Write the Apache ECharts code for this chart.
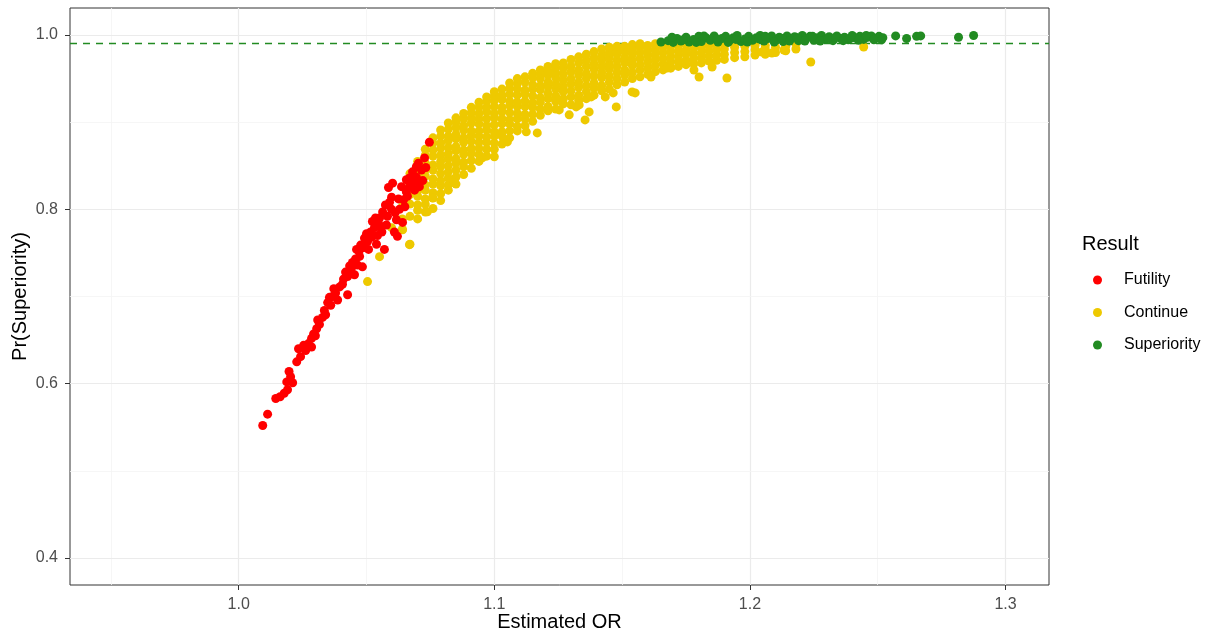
<!DOCTYPE html>
<html>
<head>
<meta charset="utf-8">
<script src="https://cdn.jsdelivr.net/npm/echarts@6.0.0/dist/echarts.min.js"></script>
<style>
html, body { margin: 0; padding: 0; background: #fff; }
#chart { width: 1216px; height: 637px; }
</style>
</head>
<body>
<div id="chart"></div>
<script>
// tick labels
var xTicks = [1.0, 1.1, 1.2, 1.3];
var yTicks = [0.4, 0.6, 0.8, 1.0];
var xMinor = [0.95, 1.05, 1.15, 1.25];
var yMinor = [0.5, 0.7, 0.9];
var threshold = 0.99;

// Futility points [OR, Pr]
var futility = [
  [1.0094,0.552],[1.0113,0.565],[1.0145,0.583],[1.0162,0.585],[1.0178,0.589],[1.0191,0.593],
  [1.0188,0.602],[1.0211,0.601],[1.0203,0.608],[1.0197,0.614],[1.0227,0.625],[1.0242,0.631],
  [1.0234,0.640],[1.0254,0.644],[1.0285,0.642],[1.0273,0.646],[1.0285,0.652],[1.0293,0.657],
  [1.0305,0.663],[1.0316,0.668],[1.0309,0.673],[1.0328,0.676],[1.0340,0.679],[1.0348,0.693],
  [1.0355,0.699],[1.0367,0.700],[1.0379,0.704],[1.0387,0.696],[1.0395,0.711],[1.0406,0.714],
  [1.0426,0.702],[1.0426,0.723],[1.0418,0.728],[1.0434,0.735],[1.0453,0.725],[1.0445,0.739],
  [1.0465,0.736],[1.0457,0.743],[1.0473,0.746],[1.0484,0.734],[1.0461,0.754],[1.0477,0.759],
  [1.0488,0.756],[1.0492,0.767],[1.0504,0.763],[1.0508,0.754],[1.0516,0.774],[1.0523,0.786],
  [1.0531,0.779],[1.0539,0.760],[1.0543,0.770],[1.0551,0.790],[1.0555,0.779],[1.0563,0.797],
  [1.0570,0.754],[1.0574,0.805],[1.0578,0.782],[1.0586,0.825],[1.0598,0.814],[1.0598,0.800],
  [1.0602,0.830],[1.0609,0.774],[1.0617,0.788],[1.0621,0.769],[1.0629,0.800],[1.0637,0.826],
  [1.0641,0.785],[1.0645,0.811],[1.0656,0.834],[1.0656,0.820],[1.0668,0.826],[1.0668,0.836],
  [1.0676,0.830],[1.0680,0.843],[1.0695,0.849],[1.0695,0.837],[1.0703,0.853],[1.0707,0.826],
  [1.0715,0.845],[1.0727,0.859],[1.0746,0.877],
  [1.0500,0.772],[1.0520,0.768],[1.0535,0.790],[1.0548,0.783],[1.0560,0.774],[1.0582,0.792],
  [1.0590,0.808],[1.0612,0.796],[1.0625,0.812],[1.0650,0.803],[1.0660,0.815],[1.0688,0.822],
  [1.0690,0.832],[1.0720,0.833],[1.0732,0.848],[1.0470,0.752],[1.0440,0.731],[1.0410,0.720],
  [1.0372,0.709],[1.0360,0.690],[1.0335,0.684],[1.0300,0.655],[1.0262,0.638]
];

// Continue points, read column by column: [OR, [Pr values]]
var continueCols = [
  [1.0640, [0.777, 0.789, 0.803]],
  [1.0670, [0.760, 0.792, 0.806, 0.817, 0.829, 0.841]],
  [1.0700, [0.789, 0.799, 0.805, 0.815, 0.821, 0.832, 0.838, 0.847, 0.855]],
  [1.0730, [0.797, 0.806, 0.812, 0.822, 0.828, 0.838, 0.845, 0.853, 0.862, 0.869]],
  [1.0760, [0.801, 0.813, 0.819, 0.829, 0.835, 0.845, 0.851, 0.861, 0.868, 0.876, 0.882]],
  [1.0790, [0.810, 0.818, 0.827, 0.833, 0.841, 0.849, 0.855, 0.862, 0.870, 0.876, 0.884, 0.891]],
  [1.0820, [0.822, 0.828, 0.836, 0.843, 0.850, 0.858, 0.864, 0.871, 0.879, 0.884, 0.892, 0.899]],
  [1.0850, [0.829, 0.837, 0.845, 0.853, 0.858, 0.867, 0.872, 0.881, 0.886, 0.894, 0.900, 0.905]],
  [1.0880, [0.840, 0.849, 0.854, 0.863, 0.868, 0.877, 0.882, 0.891, 0.896, 0.904, 0.910]],
  [1.0910, [0.847, 0.856, 0.864, 0.870, 0.878, 0.885, 0.890, 0.899, 0.905, 0.911, 0.917]],
  [1.0940, [0.855, 0.863, 0.870, 0.877, 0.884, 0.890, 0.898, 0.904, 0.910, 0.917, 0.923]],
  [1.0970, [0.861, 0.869, 0.877, 0.883, 0.891, 0.896, 0.904, 0.912, 0.917, 0.924, 0.929]],
  [1.1000, [0.869, 0.876, 0.884, 0.889, 0.897, 0.905, 0.910, 0.918, 0.925, 0.930, 0.935]],
  [1.1030, [0.875, 0.884, 0.889, 0.898, 0.904, 0.912, 0.917, 0.926, 0.931, 0.938]],
  [1.1060, [0.882, 0.890, 0.898, 0.903, 0.911, 0.919, 0.924, 0.932, 0.939, 0.945]],
  [1.1090, [0.890, 0.895, 0.904, 0.910, 0.918, 0.923, 0.931, 0.938, 0.944, 0.950]],
  [1.1120, [0.896, 0.904, 0.909, 0.918, 0.924, 0.932, 0.937, 0.946, 0.952]],
  [1.1150, [0.901, 0.909, 0.917, 0.922, 0.930, 0.938, 0.943, 0.951, 0.956]],
  [1.1180, [0.908, 0.915, 0.923, 0.928, 0.937, 0.942, 0.950, 0.955, 0.960]],
  [1.1210, [0.913, 0.918, 0.927, 0.933, 0.941, 0.946, 0.954, 0.959, 0.964]],
  [1.1240, [0.915, 0.924, 0.930, 0.938, 0.944, 0.951, 0.957, 0.963, 0.967]],
  [1.1270, [0.921, 0.927, 0.935, 0.941, 0.948, 0.955, 0.962, 0.968]],
  [1.1300, [0.920, 0.929, 0.936, 0.944, 0.950, 0.958, 0.964, 0.972]],
  [1.1330, [0.925, 0.931, 0.940, 0.946, 0.954, 0.960, 0.968, 0.975]],
  [1.1360, [0.927, 0.935, 0.942, 0.950, 0.956, 0.964, 0.971, 0.978]],
  [1.1390, [0.931, 0.939, 0.945, 0.953, 0.961, 0.967, 0.974, 0.981]],
  [1.1420, [0.936, 0.942, 0.951, 0.957, 0.964, 0.971, 0.977, 0.984]],
  [1.1450, [0.938, 0.946, 0.953, 0.961, 0.967, 0.974, 0.980, 0.986]],
  [1.1480, [0.943, 0.950, 0.957, 0.964, 0.971, 0.978, 0.983, 0.987]],
  [1.1510, [0.946, 0.954, 0.960, 0.968, 0.974, 0.981, 0.987]],
  [1.1540, [0.950, 0.957, 0.965, 0.971, 0.978, 0.984, 0.989]],
  [1.1570, [0.952, 0.960, 0.966, 0.973, 0.980, 0.986, 0.990]],
  [1.1600, [0.955, 0.962, 0.969, 0.976, 0.982, 0.988]],
  [1.1630, [0.958, 0.965, 0.972, 0.978, 0.984, 0.990]],
  [1.1660, [0.960, 0.967, 0.973, 0.980, 0.986, 0.990]],
  [1.1690, [0.962, 0.969, 0.975, 0.981, 0.987]],
  [1.1720, [0.964, 0.970, 0.976, 0.982, 0.988]],
  [1.1750, [0.966, 0.971, 0.978, 0.983, 0.989]],
  [1.1780, [0.967, 0.973, 0.979, 0.985, 0.990]],
  [1.1810, [0.968, 0.974, 0.980, 0.986]],
  [1.1840, [0.970, 0.976, 0.982, 0.988]],
  [1.1870, [0.971, 0.977, 0.983, 0.989]],
  [1.1900, [0.972, 0.978, 0.984, 0.989]],
  [1.1940, [0.974, 0.980, 0.986]],
  [1.1980, [0.975, 0.981, 0.987]],
  [1.2020, [0.977, 0.983, 0.988]],
  [1.2060, [0.978, 0.984, 0.988]],
  [1.2100, [0.980, 0.986]],
  [1.2140, [0.982, 0.987]],
  [1.2180, [0.984, 0.990]]
];

// scattered Continue points off the main band
var continueExtra = [
  [1.0668,0.7595],[1.0504,0.7171],[1.0551,0.7457],[1.0598,0.7790],[1.0641,0.7766],[1.0648,0.8053],
  [1.0637,0.7881],[1.0738,0.7973],[1.0758,0.8133],[1.0844,0.8305],[1.0953,0.8591],[1.1000,0.8603],
  [1.1051,0.8774],[1.1125,0.8889],[1.1168,0.8877],[1.1254,0.9141],[1.1293,0.9084],[1.1320,0.9175],
  [1.1379,0.9290],[1.1355,0.9026],[1.1371,0.9118],[1.1332,0.9198],[1.1477,0.9175],[1.1539,0.9347],
  [1.1551,0.9336],[1.1613,0.9519],[1.1801,0.9519],[1.1910,0.9507],[1.1781,0.9599],[1.1852,0.9633],
  [1.2238,0.9691],[1.2445,0.9863],[1.2086,0.9794],[1.2133,0.9828],[1.2180,0.9908],[1.2047,0.9805],
  [1.1465,0.9336],[1.1434,0.9290],[1.1676,0.9622]
];

// Superiority points
var superiority = [
  [1.1652,0.9920],[1.1680,0.9935],[1.1700,0.9915],[1.1715,0.9960],[1.1730,0.9930],[1.1750,0.9975],
  [1.1762,0.9920],[1.1780,0.9950],[1.1800,0.9985],[1.1810,0.9925],[1.1830,0.9965],[1.1845,0.9940],
  [1.1860,0.9990],[1.1875,0.9920],[1.1890,0.9960],[1.1905,0.9985],[1.1920,0.9935],[1.1935,0.9970],
  [1.1950,0.9995],[1.1965,0.9925],[1.1980,0.9955],[1.1995,0.9985],[1.2010,0.9940],[1.2025,0.9970],
  [1.2040,0.9995],[1.2055,0.9930],[1.2070,0.9960],[1.2085,0.9990],[1.2100,0.9945],[1.2115,0.9975],
  [1.2130,0.9925],[1.2145,0.9990],[1.2160,0.9955],[1.2175,0.9980],[1.2190,0.9935],[1.2205,0.9995],
  [1.2220,0.9960],[1.2235,0.9985],[1.2250,0.9940],[1.2265,0.9970],[1.2280,0.9995],[1.2295,0.9950],
  [1.2310,0.9980],[1.2325,0.9935],[1.2340,0.9990],[1.2355,0.9960],[1.2370,0.9975],[1.2385,0.9945],
  [1.2400,0.9995],[1.2415,0.9965],[1.2430,0.9985],[1.2445,0.9950],[1.2460,0.9975],[1.2475,0.9990],
  [1.2490,0.9960],[1.2505,0.9985],[1.2520,0.9970],[1.2570,0.9990],[1.2613,0.9960],[1.2652,0.9985],
  [1.2668,0.9990],[1.2816,0.9975],[1.2875,0.9995],
  [1.1695,0.9975],[1.1740,0.9945],[1.1790,0.9915],[1.1820,0.9990],[1.1870,0.9955],[1.1915,0.9915],
  [1.1945,0.9950],[1.1990,0.9920],[1.2035,0.9955],[1.2060,0.9985],[1.2095,0.9920],[1.2125,0.9960],
  [1.2155,0.9930],[1.2185,0.9970],[1.2215,0.9930],[1.2245,0.9985],[1.2275,0.9930],[1.2305,0.9960],
  [1.2335,0.9970],[1.2365,0.9935],[1.2395,0.9965],[1.2425,0.9940],[1.2455,0.9995],[1.2485,0.9945],
  [1.2515,0.9945]
];

var continuePts = [];
continueCols.forEach(function (c) {
  c[1].forEach(function (y) { continuePts.push([c[0], y]); });
});
continueExtra.forEach(function (p) { continuePts.push(p); });

var font = "'Liberation Sans', Arial, sans-serif";

var gridLines = [];
xTicks.forEach(function (v) { gridLines.push({ xAxis: v, lineStyle: { color: '#ebebeb', width: 1.2, type: 'solid' } }); });
xMinor.forEach(function (v) { gridLines.push({ xAxis: v, lineStyle: { color: '#f4f4f4', width: 0.8, type: 'solid' } }); });
yTicks.forEach(function (v) { gridLines.push({ yAxis: v, lineStyle: { color: '#ebebeb', width: 1.2, type: 'solid' } }); });
yMinor.forEach(function (v) { gridLines.push({ yAxis: v, lineStyle: { color: '#f4f4f4', width: 0.8, type: 'solid' } }); });

var chart = echarts.init(document.getElementById('chart'));

var option = {
  animation: false,
  backgroundColor: '#ffffff',
  title: {
    text: 'Result',
    left: 1077,
    top: 229,
    textStyle: { fontFamily: font, fontSize: 20, fontWeight: 'normal', color: '#000000' }
  },
  legend: {
    data: ['Futility', 'Continue', 'Superiority'],
    orient: 'vertical',
    left: 1088,
    top: 265,
    icon: 'circle',
    itemWidth: 9,
    itemHeight: 9,
    itemGap: 12.5,
    textStyle: { fontFamily: font, fontSize: 16, color: '#000000', lineHeight: 20, padding: [0, 0, 0, 17] }
  },
  grid: {
    left: 70,
    right: 167,
    top: 8,
    bottom: 52,
    outerBoundsMode: 'none',
    show: true,
    backgroundColor: '#ffffff',
    borderColor: '#333333',
    borderWidth: 1
  },
  xAxis: {
    type: 'value',
    min: 0.934,
    max: 1.317,
    name: 'Estimated OR',
    nameLocation: 'middle',
    nameGap: 27,
    nameMoveOverlap: false,
    nameTextStyle: { fontFamily: font, fontSize: 20, color: '#000000' },
    axisLine: { show: false },
    splitLine: { show: false },
    axisTick: { show: true, length: 5, customValues: xTicks, lineStyle: { color: '#333333' } },
    axisLabel: {
      customValues: xTicks,
      margin: 12,
      fontFamily: font, fontSize: 16, color: '#4d4d4d',
      formatter: function (v) { return v.toFixed(1); }
    }
  },
  yAxis: {
    type: 'value',
    min: 0.369,
    max: 1.031,
    name: 'Pr(Superiority)',
    nameLocation: 'middle',
    nameGap: 40,
    nameMoveOverlap: false,
    nameTextStyle: { fontFamily: font, fontSize: 20, color: '#000000' },
    axisLine: { show: false },
    splitLine: { show: false },
    axisTick: { show: true, length: 5, customValues: yTicks, lineStyle: { color: '#333333' } },
    axisLabel: {
      customValues: yTicks,
      margin: 12,
      fontFamily: font, fontSize: 16, color: '#4d4d4d',
      formatter: function (v) { return v.toFixed(1); }
    }
  },
  series: [
    {
      name: 'grid',
      type: 'scatter',
      data: [],
      z: 1,
      silent: true,
      markLine: { silent: true, z: 1, symbol: ['none', 'none'], label: { show: false }, data: gridLines }
    },
    {
      name: 'Continue',
      type: 'scatter',
      data: continuePts,
      symbolSize: 9,
      z: 3,
      itemStyle: { color: '#EEC900', opacity: 1 }
    },
    {
      name: 'Futility',
      type: 'scatter',
      data: futility,
      symbolSize: 9,
      z: 4,
      itemStyle: { color: '#FF0000', opacity: 1 }
    },
    {
      name: 'Superiority',
      type: 'scatter',
      data: superiority,
      symbolSize: 9,
      z: 5,
      itemStyle: { color: '#228B22', opacity: 1 },
      markLine: {
        silent: true,
        z: 2,
        symbol: ['none', 'none'],
        label: { show: false },
        lineStyle: { color: '#228B22', type: [7, 6], width: 1.4 },
        data: [{ yAxis: threshold }]
      }
    }
  ]
};

chart.setOption(option);
</script>
</body>
</html>
